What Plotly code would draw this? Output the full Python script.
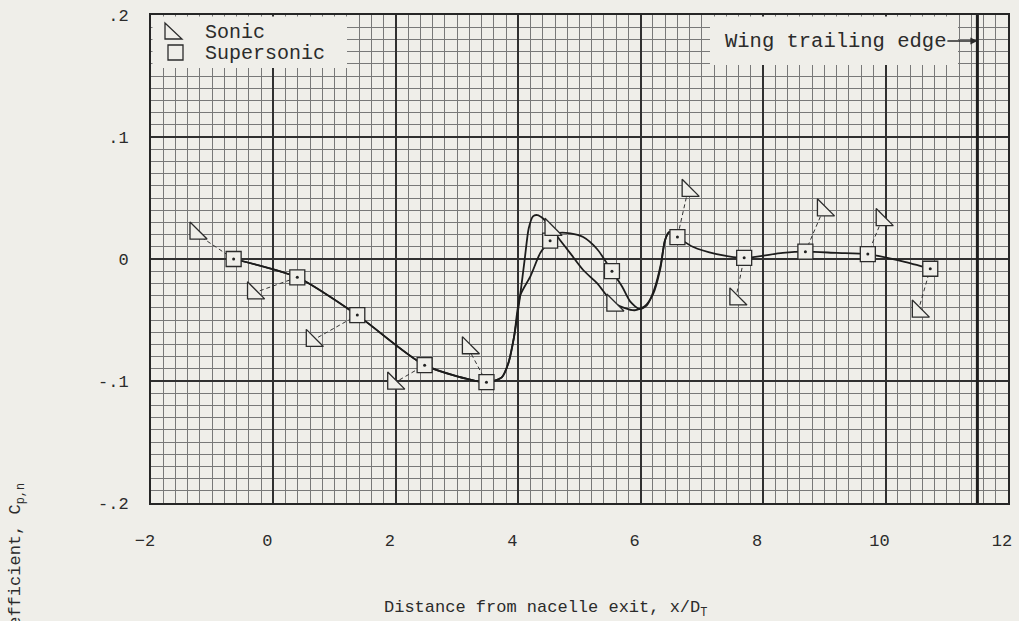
import plotly.graph_objects as go

# ---- data -------------------------------------------------------------
# Supersonic jet: measured pressure coefficient along the nacelle afterbody
supersonic_x = [-0.65, 0.39, 1.37, 2.47, 3.48, 4.52, 5.53, 6.60, 7.69, 8.69, 9.71, 10.73]
supersonic_y = [0.000, -0.015, -0.046, -0.087, -0.101, 0.015, -0.010, 0.018, 0.001, 0.006, 0.004, -0.008]

# Sonic jet: where each symbol is drawn (flagged symbols sit off the point,
# joined to it by a dashed leader; index into the supersonic points)
sonic_x = [-1.27, -0.33, 0.63, 1.96, 3.18, 4.53, 5.54, 6.77, 7.55, 8.98, 9.94, 10.53]
sonic_y = [0.021, -0.028, -0.067, -0.102, -0.073, 0.024, -0.038, 0.056, -0.033, 0.040, 0.032, -0.043]
sonic_leader_to = [0, 1, 2, 3, 4, None, None, 7, 8, 9, 10, 11]

# Faired curves
fair_super_x = [-0.65, 0.39, 1.37, 2.47, 3.48, 3.73, 3.84, 3.93, 4.03, 4.20, 4.36, 4.52,
                4.64, 4.85, 5.06, 5.29, 5.53, 5.70, 5.83, 5.98, 6.10, 6.22, 6.33, 6.40,
                6.47, 6.60, 6.85, 7.24, 7.69, 8.32, 8.69, 9.20, 9.71, 10.28, 10.73]
fair_super_y = [0.000, -0.015, -0.046, -0.087, -0.101, -0.097, -0.085, -0.064, -0.030, -0.014, 0.005, 0.015,
                0.021, 0.021, 0.018, 0.008, -0.010, -0.023, -0.035, -0.041, -0.038, -0.025, -0.004, 0.016,
                0.022, 0.018, 0.010, 0.004, 0.001, 0.005, 0.006, 0.005, 0.004, -0.002, -0.008]

fair_sonic_x = [-0.65, 0.39, 1.37, 2.47, 3.48, 3.73, 3.84, 3.93, 4.03, 4.11, 4.17, 4.24,
                4.31, 4.41, 4.54, 4.69, 4.86, 5.06, 5.29, 5.53, 5.73, 5.90, 6.06, 6.20,
                6.32, 6.39, 6.46, 6.60]
fair_sonic_y = [0.000, -0.015, -0.046, -0.087, -0.101, -0.097, -0.085, -0.064, -0.030, 0.002, 0.025, 0.035,
                0.036, 0.033, 0.025, 0.015, 0.004, -0.009, -0.020, -0.035, -0.040, -0.042, -0.039, -0.029,
                -0.008, 0.014, 0.022, 0.018]

trailing_edge_x = 11.5

x_ticks = [-2, 0, 2, 4, 6, 8, 10, 12]
y_ticks = [-0.2, -0.1, 0.0, 0.1, 0.2]
y_tick_text = ["-.2", "-.1", "0", ".1", ".2"]

# ---- style ------------------------------------------------------------
PAPER = "#efeee9"
INK = "#2b2b2b"
FONT = "Liberation Mono, Courier New, monospace"

W, H = 1019, 621
ML, MR, MT, MB = 151, 11, 15, 118
PW, PH = W - ML - MR, H - MT - MB


def px_x(px):
    return (px - ML) / PW


def px_y(py):
    return (H - MB - py) / PH


fig = go.Figure()

# faired curves
for cx, cy in ((fair_super_x, fair_super_y), (fair_sonic_x, fair_sonic_y)):
    fig.add_trace(go.Scatter(
        x=cx, y=cy, mode="lines",
        line=dict(color="#1c1c1c", width=1.8, shape="spline", smoothing=0.7),
        hoverinfo="skip", showlegend=False))

# leaders from offset sonic symbols to their points
lx, ly = [], []
for i, j in enumerate(sonic_leader_to):
    if j is None:
        continue
    lx += [sonic_x[i], supersonic_x[j], None]
    ly += [sonic_y[i], supersonic_y[j], None]
fig.add_trace(go.Scatter(
    x=lx, y=ly, mode="lines",
    line=dict(color="#333333", width=1, dash="4px,3px"),
    hoverinfo="skip", showlegend=False))

# supersonic symbols
fig.add_trace(go.Scatter(
    x=supersonic_x, y=supersonic_y, mode="markers", name="Supersonic",
    marker=dict(symbol="square", size=15, color=PAPER,
                line=dict(color=INK, width=1.3)),
    showlegend=False))

# sonic symbols
fig.add_trace(go.Scatter(
    x=sonic_x, y=sonic_y, mode="markers", name="Sonic",
    marker=dict(symbol="triangle-sw", size=19, color=PAPER,
                line=dict(color=INK, width=1.3)),
    showlegend=False))

# point dots inside the squares
fig.add_trace(go.Scatter(
    x=supersonic_x, y=supersonic_y, mode="markers",
    marker=dict(symbol="circle", size=3, color="#222222"),
    hoverinfo="skip", showlegend=False))

inset_x = 1.5 / PW
inset_y = 1.5 / PH
shapes = [
    # key box and label box (blank paper over the grid)
    dict(type="rect", xref="paper", yref="paper", x0=inset_x, x1=px_x(347),
         y0=px_y(68), y1=1 - inset_y, fillcolor=PAPER, line=dict(width=0), layer="above"),
    dict(type="rect", xref="paper", yref="paper", x0=px_x(710), x1=px_x(958),
         y0=px_y(65), y1=1 - inset_y, fillcolor=PAPER, line=dict(width=0), layer="above"),
    # wing trailing edge
    dict(type="line", xref="x", yref="paper", x0=trailing_edge_x, x1=trailing_edge_x,
         y0=0, y1=1, line=dict(color="#1e1e1e", width=3), layer="above"),
    # key symbols
    dict(type="path", xref="paper", yref="paper", xsizemode="pixel", ysizemode="pixel",
         xanchor=px_x(165), yanchor=px_y(39), path="M0,0 L0,16 L17,0 Z",
         line=dict(color=INK, width=1.3), layer="above"),
    dict(type="path", xref="paper", yref="paper", xsizemode="pixel", ysizemode="pixel",
         xanchor=px_x(168), yanchor=px_y(60), path="M0,0 L15,0 L15,15 L0,15 Z",
         line=dict(color=INK, width=1.3), layer="above"),
]

annotations = [
    dict(text="Sonic", xref="paper", yref="paper", x=px_x(203), y=px_y(32),
         xanchor="left", yanchor="middle", showarrow=False,
         font=dict(family=FONT, size=20, color=INK)),
    dict(text="Supersonic", xref="paper", yref="paper", x=px_x(203), y=px_y(53),
         xanchor="left", yanchor="middle", showarrow=False,
         font=dict(family=FONT, size=20, color=INK)),
    dict(text="Wing trailing edge", xref="x", yref="paper", x=trailing_edge_x, y=px_y(41),
         ax=-142, ay=0, showarrow=True, arrowhead=2, arrowsize=1, arrowwidth=1.4,
         arrowcolor=INK, standoff=0,
         font=dict(family=FONT, size=20.5, color=INK)),
    dict(text="Distance from nacelle exit, x/D<sub>T</sub>", xref="paper", yref="paper",
         x=px_x(545), y=px_y(609), xanchor="center", yanchor="middle", showarrow=False,
         font=dict(family=FONT, size=17, color=INK)),
    dict(text="Pressure coefficient, C<sub>p,n</sub>", xref="paper", yref="paper",
         x=px_x(17), y=px_y(481), xanchor="center", yanchor="top", textangle=-90,
         showarrow=False, font=dict(family=FONT, size=17, color=INK)),
]

fig.update_layout(
    width=W, height=H,
    margin=dict(l=ML, r=MR, t=MT, b=MB, pad=0, autoexpand=False),
    paper_bgcolor=PAPER, plot_bgcolor=PAPER,
    shapes=shapes, annotations=annotations,
    showlegend=False,
    font=dict(family=FONT, color=INK),
)

fig.update_xaxes(
    range=[-2, 12], tickvals=x_ticks, ticks="", ticklabelstandoff=21, ticklabelshift=-6,
    automargin=False, tickfont=dict(family=FONT, size=17, color=INK),
    showgrid=True, gridcolor="#303030", gridwidth=1.8,
    minor=dict(dtick=0.2, tick0=0, showgrid=True, gridcolor="#787878", gridwidth=1),
    zeroline=False, showline=True, mirror=True, linecolor="#262626", linewidth=2,
)
fig.update_yaxes(
    range=[-0.2, 0.2], tickvals=y_ticks, ticktext=y_tick_text, ticks="", automargin=False,
    ticklabelstandoff=17, tickfont=dict(family=FONT, size=17, color=INK),
    showgrid=True, gridcolor="#303030", gridwidth=1.8,
    minor=dict(dtick=0.01, tick0=0, showgrid=True, gridcolor="#787878", gridwidth=1),
    zeroline=False, showline=True, mirror=True, linecolor="#262626", linewidth=2,
)

fig.write_html("out.html")
